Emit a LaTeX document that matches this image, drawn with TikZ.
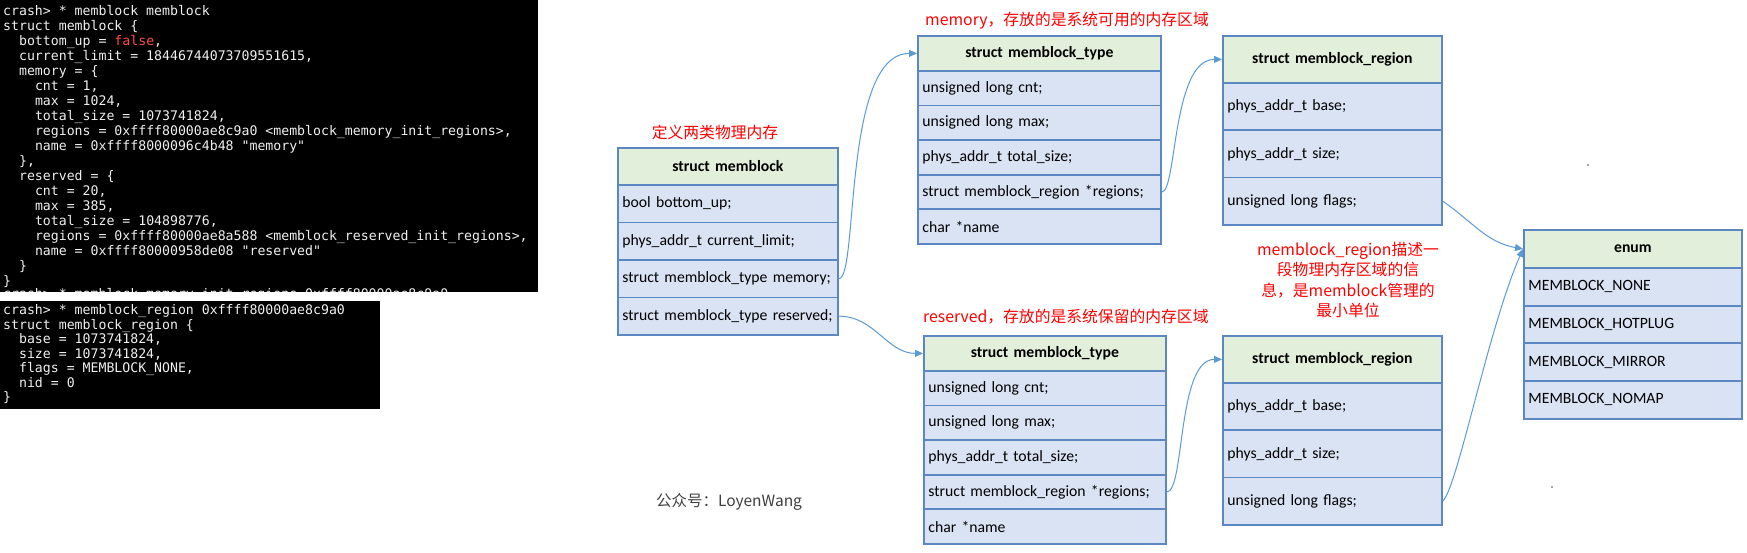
\documentclass[tikz,border=0pt]{standalone}
\usepackage{fontspec}
\setmainfont{Carlito}
\newfontfamily\cjkfont{Noto Sans CJK SC}
\newfontfamily\monofont{DejaVu Sans Mono}[Ligatures=TeXOff]
\usetikzlibrary{arrows.meta}
\definecolor{hdrc}{HTML}{E2EFDA}
\definecolor{rowc}{HTML}{DAE3F3}
\definecolor{bordc}{HTML}{5B87C2}
\definecolor{arrc}{HTML}{5B9BD5}
\definecolor{termfg}{HTML}{F0F0F0}
\definecolor{termred}{HTML}{FF4A4A}
\definecolor{wmc}{HTML}{404040}
\tikzset{
  cell/.style={draw=bordc, line width=1.8pt, anchor=north west, inner xsep=4.5pt, inner ysep=0pt, font=\fontsize{15.7}{18}\selectfont},
  hdrbox/.style={cell, fill=hdrc, align=center, font=\bfseries\fontsize{15.7}{18}\selectfont},
  rowbox/.style={cell, fill=rowc, align=left},
  conn/.style={draw=arrc, line width=1pt, -{Triangle[length=8pt,width=7pt]}},
  cnote/.style={text=red, inner sep=0pt, font=\cjkfont\fontsize{15.8}{20.3}\selectfont},
  wmark/.style={text=wmc, inner sep=0pt, font=\cjkfont\fontsize{15.5}{18}\selectfont},
  term/.style={text=termfg, anchor=base west, inner sep=0pt, font=\monofont\fontsize{13.2}{15}\selectfont},
}
% #1 name, #2 x, #3 y, #4 width, #5 header height, #6 row height, #7 header, #8 rows
\newcommand\mkstruct[8]{%
  \pgfmathsetmacro\tw{#4-9}%
  \node[hdrbox, minimum width=#4, text width=\tw pt, minimum height=#5] (#1-h) at (#2,#3) {#7};
  \foreach \rowtxt [count=\i] in {#8} {%
    \node[rowbox, minimum width=#4, text width=\tw pt, minimum height=#6] (#1-\i) at (#2,{#3+#5+(\i-1)*#6}) {\rowtxt};
  }%
}
\begin{document}
\begin{tikzpicture}[x=1pt,y=-1pt]
\fill[white] (0,0) rectangle (1747,552);
\useasboundingbox (0,0) rectangle (1747,552);

% terminal 1
\begin{scope}
\clip (0,0) rectangle (538,291.7);
\fill[black] (0,0) rectangle (538,291.7);
\node[term] (a0) at (3,15.4) {crash> * memblock memblock};
\node[term] (a1) at (3,30.4) {struct memblock \{};
\node[term] (a2) at (18.9,45.4) {bottom\_up = \textcolor{termred}{false},};
\node[term] (a3) at (18.9,60.4) {current\_limit = 18446744073709551615,};
\node[term] (a4) at (18.9,75.4) {memory = \{};
\node[term] (a5) at (34.8,90.4) {cnt = 1,};
\node[term] (a6) at (34.8,105.4) {max = 1024,};
\node[term] (a7) at (34.8,120.4) {total\_size = 1073741824,};
\node[term] (a8) at (34.8,135.4) {regions = 0xffff80000ae8c9a0 <memblock\_memory\_init\_regions>,};
\node[term] (a9) at (34.8,150.4) {name = 0xffff8000096c4b48 "memory"};
\node[term] (a10) at (18.9,165.4) {\},};
\node[term] (a11) at (18.9,180.4) {reserved = \{};
\node[term] (a12) at (34.8,195.4) {cnt = 20,};
\node[term] (a13) at (34.8,210.4) {max = 385,};
\node[term] (a14) at (34.8,225.4) {total\_size = 104898776,};
\node[term] (a15) at (34.8,240.4) {regions = 0xffff80000ae8a588 <memblock\_reserved\_init\_regions>,};
\node[term] (a16) at (34.8,255.4) {name = 0xffff80000958de08 "reserved"};
\node[term] (a17) at (18.9,270.4) {\}};
\node[term] (a18) at (3,285.4) {\}};
\node[term] (a19) at (3,298.8) {crash> * memblock\_memory\_init\_regions 0xffff80000ae8c9a0};
\end{scope}

% terminal 2
\begin{scope}
\clip (0,300.7) rectangle (380,409);
\fill[black] (0,300.7) rectangle (380,409);
\node[term] (b0) at (3,314.6) {crash> * memblock\_region 0xffff80000ae8c9a0};
\node[term] (b1) at (3,329.1) {struct memblock\_region \{};
\node[term] (b2) at (18.9,343.6) {base = 1073741824,};
\node[term] (b3) at (18.9,358.1) {size = 1073741824,};
\node[term] (b4) at (18.9,372.6) {flags = MEMBLOCK\_NONE,};
\node[term] (b5) at (18.9,387.1) {nid = 0};
\node[term] (b6) at (3,401.6) {\}};
\end{scope}

% structures
\mkstruct{mb}{617}{147}{220}{37}{37.5}{struct memblock}{bool bottom\_up;, phys\_addr\_t current\_limit;, struct memblock\_type memory;, struct memblock\_type reserved;}
\mkstruct{tt}{917}{35}{243}{35}{34.6}{struct memblock\_type}{unsigned long cnt;, unsigned long max;, phys\_addr\_t total\_size;, struct memblock\_region *regions;, char *name}
\mkstruct{rt}{1222}{35}{219}{47}{47.3}{struct memblock\_region}{phys\_addr\_t base;, phys\_addr\_t size;, unsigned long flags;}
\mkstruct{tb}{923}{335}{242}{35}{34.6}{struct memblock\_type}{unsigned long cnt;, unsigned long max;, phys\_addr\_t total\_size;, struct memblock\_region *regions;, char *name}
\mkstruct{rb}{1222}{335}{219}{47}{47.3}{struct memblock\_region}{phys\_addr\_t base;, phys\_addr\_t size;, unsigned long flags;}
\mkstruct{en}{1523}{229}{218}{38}{37.7}{enum}{MEMBLOCK\_NONE, MEMBLOCK\_HOTPLUG, MEMBLOCK\_MIRROR, MEMBLOCK\_NOMAP}

% notes
\node[cnote] (n0) at (715,132) {定义两类物理内存};
\node[cnote, anchor=west] (n1) at (925,21) {memory，存放的是系统可用的内存区域};
\node[cnote, anchor=west] (n2) at (923,317) {reserved，存放的是系统保留的内存区域};
\node[cnote, align=center] (n3) at (1348,280) {memblock\_region描述一\\段物理内存区域的信\\息，是memblock管理的\\最小单位};
\node[wmark] (wm) at (729,502) {公众号：LoyenWang};

% connectors
\draw[conn] (mb-3.east) .. controls +(20,0) and +(-75,0) .. (tt-h.west);
\draw[conn] (mb-4.east) to[out=0,in=180] (tb-h.west);
\draw[conn] (tt-4.east) .. controls +(15,0) and +(-50,0) .. (rt-h.west);
\draw[conn] (tb-4.east) .. controls +(18,0) and +(-45,0) .. (rb-h.west);
\draw[conn] (rt-3.east) to[out=-35,in=170] (en-h.west);
\draw[conn] (rb-3.east) .. controls +(15,-15) and +(-35,80) .. (en-h.west);

% tiny dots
\fill[black!70] (1588,165) circle (0.9);
\fill[black!70] (1552,487) circle (0.9);
\end{tikzpicture}
\end{document}
